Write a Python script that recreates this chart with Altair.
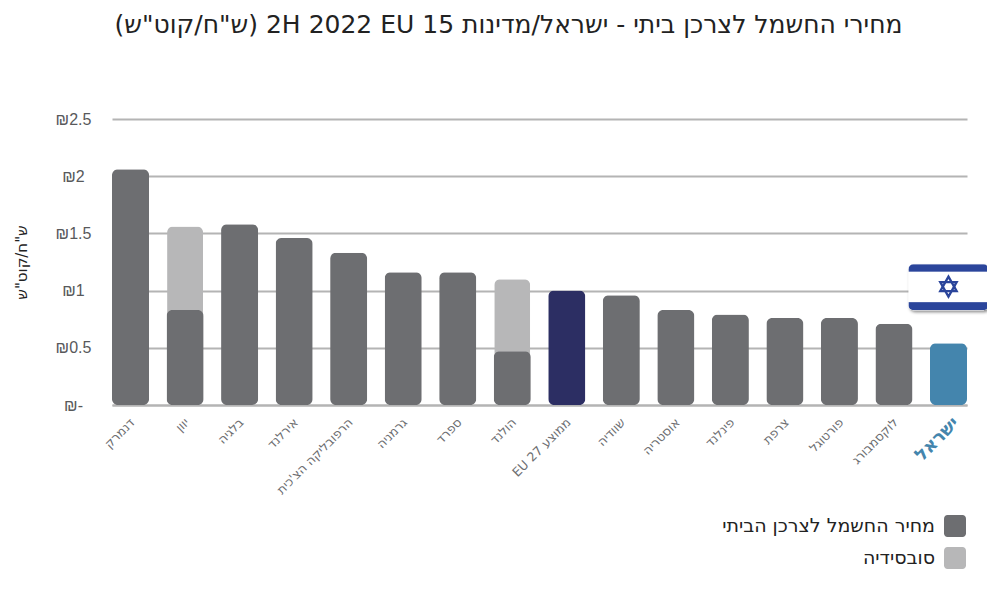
import base64
import altair as alt
import pandas as pd

countries = ["דנמרק", "יוון", "בלגיה", "אירלנד", "הרפובליקה הצ'כית", "גרמניה", "ספרד", "הולנד",
             "\u202bממוצע 27 EU\u202c", "שוודיה", "אוסטריה", "פינלנד", "צרפת", "פורטוגל", "לוקסמבורג", "ישראל"]
prices = [2.06, 0.83, 1.58, 1.46, 1.33, 1.16, 1.16, 0.47, 1.0, 0.96, 0.83, 0.79, 0.76, 0.76, 0.71, 0.54]
subsidised_totals = {"יוון": 1.56, "הולנד": 1.10}

PRICE = "מחיר החשמל לצרכן הביתי"
SUB = "סובסידיה"
AVG = "ממוצע"
ISR = "ישראל"
series_domain = [PRICE, SUB, AVG, ISR]
series_colors = ["#6d6e71", "#b7b7b8", "#2c2e63", "#4485ad"]

title_text = "\u202bמחירי החשמל לצרכן ביתי - ישראל/מדינות 15\u200f EU\u200f 2022\u200f 2H\u200f (ש\"ח/קוט\"ש)\u202c"
y_title = "ש\"ח/קוט\"ש"
y_ticks = [0, 0.5, 1, 1.5, 2, 2.5]

def series_of(c):
    if c == countries[8]:
        return AVG
    if c == ISR:
        return ISR
    return PRICE

main = pd.DataFrame({"country": countries, "value": prices, "series": [series_of(c) for c in countries]})
sub = pd.DataFrame({"country": list(subsidised_totals), "value": list(subsidised_totals.values()), "series": SUB})

flag_svg = """<svg xmlns='http://www.w3.org/2000/svg' width='92' height='58' viewBox='0 0 92 58'>
<defs><filter id='s' x='-10%' y='-10%' width='125%' height='130%'><feDropShadow dx='1.5' dy='2' stdDeviation='1.5' flood-color='#000' flood-opacity='0.45'/></filter>
<clipPath id='c'><rect x='6' y='6' width='80' height='46' rx='5'/></clipPath></defs>
<rect x='6' y='6' width='80' height='46' rx='5' fill='#fff' filter='url(#s)'/>
<g clip-path='url(#c)'><rect x='6' y='6' width='80' height='7.5' fill='#2b459b'/><rect x='6' y='44' width='80' height='8' fill='#2b459b'/></g>
<g fill='none' stroke='#2b459b' stroke-width='2.3'><polygon points='46,18.5 54.2,33 37.8,33'/><polygon points='46,38.5 54.2,24 37.8,24'/></g>
</svg>"""
flag_url = "data:image/svg+xml;base64," + base64.b64encode(flag_svg.encode()).decode()
flag = pd.DataFrame({"country": [ISR], "value": [1.03], "img": [flag_url]})

x = alt.X("country:N", sort=countries, title=None,
          scale=alt.Scale(paddingInner=0.32, paddingOuter=0),
          axis=alt.Axis(labelAngle=-45, labelAlign="right", labelBaseline="middle", tickSize=0, labelPadding=15,
                        domainColor="#b4b4b4", domainWidth=2, labelFont="DejaVu Sans",
                        labelFontSize=alt.expr("datum.value == 'ישראל' ? 18 : 12.5"),
                        labelFontWeight=alt.expr("datum.value == 'ישראל' ? 'bold' : 'normal'"),
                        labelColor=alt.expr("datum.value == 'ישראל' ? '#4485ad' : '#6d6e71'"),
                        labelOffset=alt.expr("datum.value == 'ישראל' ? 8 : 2"),
                        labelLimit=300, labelOverlap=False))
y = alt.Y("value:Q", title=y_title, scale=alt.Scale(domain=[0, 2.5], nice=False),
          axis=alt.Axis(values=y_ticks, tickSize=0, domain=False, gridColor="#b4b4b4", gridWidth=2,
                        labelAlign="center", labelPadding=39, labelFont="Liberation Sans", labelFontSize=16, labelColor="#58595b",
                        labelExpr="datum.value == 0 ? '₪-' : '₪' + datum.value",
                        titleFont="DejaVu Sans", titleFontSize=15, titleFontWeight="normal", titleColor="#222222",
                        titleX=-83))
rounded = "M-0.68,-1H0.68A0.32,0.32 0 0 1 1,-0.68V0.68A0.32,0.32 0 0 1 0.68,1H-0.68A0.32,0.32 0 0 1 -1,0.68V-0.68A0.32,0.32 0 0 1 -0.68,-1Z"
color = alt.Color("series:N", title=None,
                  scale=alt.Scale(domain=series_domain, range=series_colors),
                  legend=alt.Legend(values=[PRICE, SUB], orient="none", legendX=832, legendY=396,
                                    symbolType=rounded, symbolSize=484, symbolStrokeWidth=0, symbolOpacity=1,
                                    labelFont="DejaVu Sans", labelFontSize=19, labelColor="#222222", labelLimit=400,
                                    labelAlign="right", labelOffset=alt.expr("-31"), rowPadding=9))

light = alt.Chart(sub).mark_bar(cornerRadius=6, size=36).encode(x=x, y=y, color=color)
dark = alt.Chart(main).mark_bar(cornerRadius=6).encode(x=x, y=y, color=color)
flag_layer = alt.Chart(flag).mark_image(width=92, height=58).encode(x=x, y=y, url="img:N")

chart = (alt.layer(light, dark, flag_layer)
    .properties(width=855, height=286, background="white", autosize="none",
                padding={"left": 104, "top": 111, "right": 20, "bottom": 170},
                title=alt.Title(title_text, anchor="middle", dx=-31, offset=73, font="DejaVu Sans",
                                fontSize=25, fontWeight="normal", color="#222222"))
    .configure_view(stroke=None))
chart.save("out.html", embed_options={"renderer": "svg", "actions": False})
